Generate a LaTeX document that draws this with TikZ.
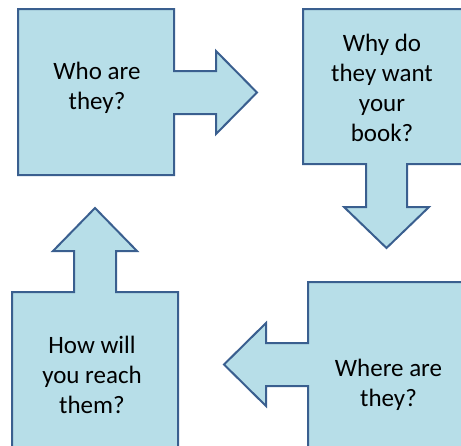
\documentclass[tikz,border=0pt]{standalone}
\usepackage{fontspec}
\setmainfont{Carlito}
\definecolor{shapefill}{HTML}{B7DEE8}
\definecolor{shapeline}{HTML}{3A5F8F}
\tikzset{
  arrowshape/.style={fill=shapefill, draw=shapeline, line width=2pt, line join=miter},
  label/.style={align=center, font=\fontsize{25}{30}\selectfont, text=black, inner sep=0pt}
}
\begin{document}
\begin{tikzpicture}[x=1pt,y=-1pt]
\useasboundingbox (0,0) rectangle (461,445);
\clip (0,0) rectangle (461,445);
% top-left: right arrow
\draw[arrowshape] (18,9) -- (174,9) -- (174,71) -- (216,71) -- (216,51) -- (257,92.5)
  -- (216,134) -- (216,114) -- (174,114) -- (174,175) -- (18,175) -- cycle;
% top-right: down arrow
\draw[arrowshape] (303,9) -- (470,9) -- (470,164) -- (407,164) -- (407,207) -- (429,207)
  -- (386.5,248) -- (344,207) -- (366,207) -- (366,164) -- (303,164) -- cycle;
% bottom-left: up arrow
\draw[arrowshape] (12,460) -- (12,292) -- (74,292) -- (74,251) -- (53,251) -- (95,208)
  -- (137,251) -- (116,251) -- (116,292) -- (178,292) -- (178,460) -- cycle;
% bottom-right: left arrow
\draw[arrowshape] (308,282) -- (470,282) -- (470,460) -- (308,460) -- (308,386) -- (266,386)
  -- (266,406) -- (224,364.5) -- (266,323) -- (266,343) -- (308,343) -- cycle;
\node[label] (who) at (97,88) {Who are\\they?};
\node[label] (why) at (382,87.5) {Why do\\they want\\your\\book?};
\node[label] (how) at (92,375) {How will\\you reach\\them?};
\node[label] (where) at (388.5,384.5) {Where are\\they?};
\end{tikzpicture}
\end{document}
